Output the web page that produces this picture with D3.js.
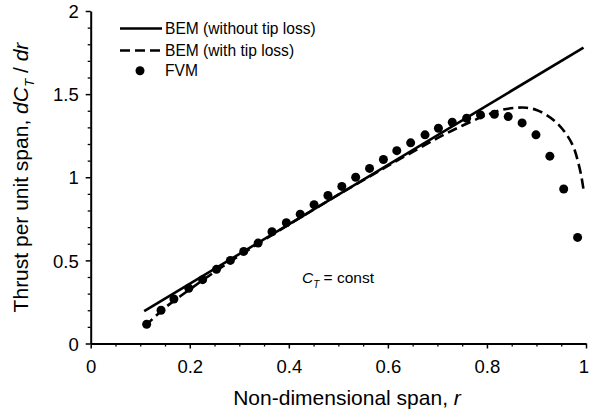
<!DOCTYPE html>
<html>
<head>
<meta charset="utf-8">
<script src="https://cdn.jsdelivr.net/npm/d3@7"></script>
<style>
  html, body { margin: 0; padding: 0; background: #fff; }
  svg { display: block; font-family: "Liberation Sans", Arial, Helvetica, sans-serif; }
</style>
</head>
<body>
<svg id="chart" width="590" height="411"></svg>
<script>
// BEM without tip loss (straight line, read at its ends)
const bemNoTipR = [0.108, 0.995];
const bemNoTipV = [0.195, 1.78];

// BEM with tip loss
const bemTipR = [0.11, 0.15, 0.2, 0.25, 0.3, 0.4, 0.5, 0.6, 0.7, 0.75, 0.8, 0.83, 0.86, 0.88, 0.9, 0.92, 0.94, 0.96, 0.975, 0.985, 0.991, 0.995];
const bemTipV = [0.105, 0.215, 0.325, 0.43, 0.528, 0.715, 0.895, 1.068, 1.235, 1.31, 1.375, 1.405, 1.418, 1.418, 1.405, 1.375, 1.33, 1.26, 1.18, 1.08, 1.0, 0.925];

// FVM points
const fvmR = [0.113, 0.142, 0.168, 0.198, 0.226, 0.254, 0.282, 0.309, 0.338, 0.366, 0.395, 0.423, 0.451, 0.479, 0.507, 0.535,
              0.563, 0.591, 0.618, 0.646, 0.675, 0.702, 0.730, 0.759, 0.787, 0.815, 0.843, 0.871, 0.899, 0.927, 0.955, 0.983];
const fvmV = [0.116, 0.20, 0.268, 0.332, 0.384, 0.446, 0.50, 0.554, 0.604, 0.672, 0.726, 0.778, 0.835, 0.89, 0.945, 1.0,
              1.053, 1.107, 1.16, 1.207, 1.255, 1.295, 1.331, 1.355, 1.375, 1.379, 1.365, 1.327, 1.255, 1.127, 0.929, 0.638];

// ticks
const xMajor = [0, 0.2, 0.4, 0.6, 0.8, 1];
const xMinor = [0.05, 0.1, 0.15, 0.25, 0.3, 0.35, 0.45, 0.5, 0.55, 0.65, 0.7, 0.75, 0.85, 0.9, 0.95];
const yMajor = [0, 0.5, 1, 1.5, 2];
const yMinor = [0.1, 0.2, 0.3, 0.4, 0.6, 0.7, 0.8, 0.9, 1.1, 1.2, 1.3, 1.4, 1.6, 1.7, 1.8, 1.9];

const svg = d3.select('#chart');

const x = d3.scaleLinear().domain([0, 1]).range([90.7, 586]);
const y = d3.scaleLinear().domain([0, 2]).range([343.5, 11]);

const zip = (a, b) => a.map((v, i) => [v, b[i]]);

/**
 * Achse mit Haupt- und Nebenticks zeichnen
 */
function drawAxis(axisFn, scale, major, minor, fmt, transform) {
  const gMinor = svg.append('g')
    .attr('transform', transform)
    .call(axisFn(scale).tickValues(minor).tickSize(3).tickSizeOuter(0).tickFormat(''));
  gMinor.select('.domain').remove();
  gMinor.selectAll('line').attr('stroke-width', 1.3);

  const g = svg.append('g')
    .attr('transform', transform)
    .call(axisFn(scale).tickValues(major).tickSize(5).tickSizeOuter(0).tickFormat(fmt));
  g.select('.domain').attr('stroke-width', 2);
  g.selectAll('line').attr('stroke-width', 1.5);
  g.selectAll('text').attr('font-size', 18.5).attr('fill', '#000')
    .attr('font-family', '"Liberation Sans", Arial, sans-serif');
  return g;
}

const fmt = d => String(d);

const gx = drawAxis(d3.axisBottom, x, xMajor, xMinor, fmt, `translate(0,${y(0)})`);
gx.selectAll('text').attr('dy', null).attr('y', 29.5)
  .attr('x', d => (d === 1 ? -2.5 : 0));   // "1" sitzt am rechten Rand

const gy = drawAxis(d3.axisLeft, y, yMajor, yMinor, fmt, `translate(${x(0)},0)`);
gy.selectAll('text').attr('x', -12).attr('dy', '0.36em');

// BEM ohne Tip-Loss
svg.append('path')
  .datum(zip(bemNoTipR, bemNoTipV))
  .attr('fill', 'none')
  .attr('stroke', '#000')
  .attr('stroke-width', 2.6)
  .attr('d', d3.line().x(d => x(d[0])).y(d => y(d[1])));

// BEM mit Tip-Loss
svg.append('path')
  .datum(zip(bemTipR, bemTipV))
  .attr('fill', 'none')
  .attr('stroke', '#000')
  .attr('stroke-width', 2.6)
  .attr('stroke-dasharray', '10,5')
  .attr('d', d3.line().curve(d3.curveCatmullRom.alpha(0.5)).x(d => x(d[0])).y(d => y(d[1])));

// FVM
svg.append('g')
  .selectAll('circle')
  .data(zip(fvmR, fvmV))
  .join('circle')
  .attr('cx', d => x(d[0]))
  .attr('cy', d => y(d[1]))
  .attr('r', 4.5)
  .attr('fill', '#000');

// Legende
const legend = svg.append('g').attr('font-size', 15.6);
const legRows = [
  { label: 'BEM (without tip loss)', kind: 'solid', y: 28.5 },
  { label: 'BEM (with tip loss)', kind: 'dash', y: 50.5 },
  { label: 'FVM', kind: 'dot', y: 70.7 }
];
legRows.forEach(row => {
  if (row.kind === 'dot') {
    legend.append('circle').attr('cx', 140).attr('cy', row.y).attr('r', 4.5).attr('fill', '#000');
  } else {
    legend.append('line')
      .attr('x1', 120).attr('x2', 162).attr('y1', row.y).attr('y2', row.y)
      .attr('stroke', '#000').attr('stroke-width', 2.6)
      .attr('stroke-dasharray', row.kind === 'dash' ? '10,5' : null);
  }
  legend.append('text').attr('x', 165).attr('y', row.y).attr('dy', '0.35em').text(row.label);
});

// Annotation C_T = const
const ann = svg.append('text').attr('x', 302).attr('y', 282.5).attr('font-size', 15.5);
ann.append('tspan').attr('font-style', 'italic').text('C');
ann.append('tspan').attr('font-style', 'italic').attr('font-size', 10).attr('dy', 5).text('T');
ann.append('tspan').attr('dy', -5).text(' = const');

// Achsentitel
const xt = svg.append('text').attr('x', 347).attr('y', 404.5).attr('text-anchor', 'middle').attr('font-size', 21);
xt.append('tspan').text('Non-dimensional span, ');
xt.append('tspan').attr('font-style', 'italic').text('r');

const yt = svg.append('text')
  .attr('transform', 'translate(28,177.5) rotate(-90)')
  .attr('text-anchor', 'middle')
  .attr('font-size', 21);
yt.append('tspan').text('Thrust per unit span, ');
yt.append('tspan').attr('font-style', 'italic').text('dC');
yt.append('tspan').attr('font-style', 'italic').attr('font-size', 13.5).attr('dy', 6).text('T');
yt.append('tspan').attr('dy', -6).text(' / ');
yt.append('tspan').attr('font-style', 'italic').text('dr');
</script>
</body>
</html>
